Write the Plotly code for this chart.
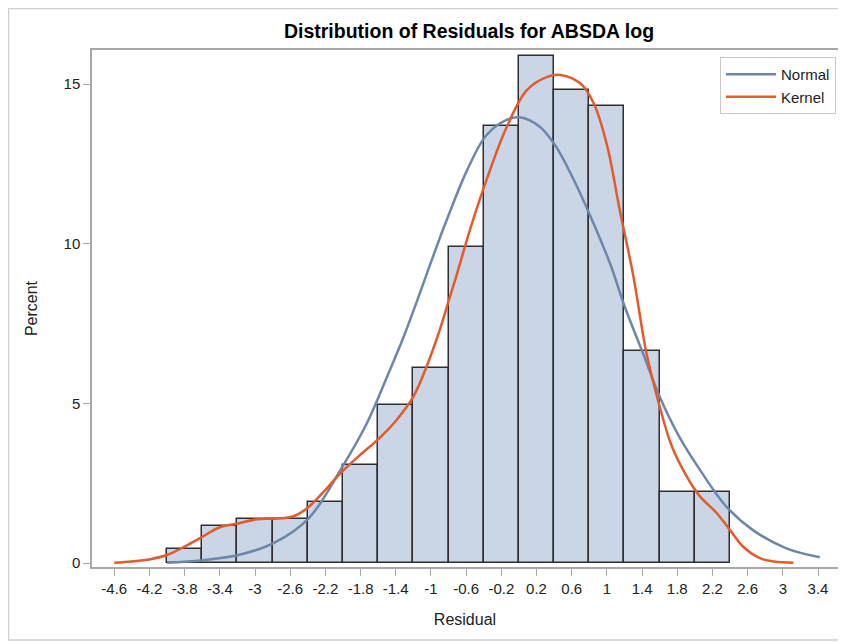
import plotly.graph_objects as go

# Histogram bins (midpoints, width 0.4) and percents
bin_mid = [-3.8, -3.4, -3.0, -2.6, -2.2, -1.8, -1.4, -1.0, -0.6, -0.2,
           0.2, 0.6, 1.0, 1.4, 1.8, 2.2]
bin_pct = [0.44, 1.16, 1.38, 1.38, 1.91, 3.07, 4.95, 6.1, 9.9, 13.69,
           15.88, 14.81, 14.31, 6.64, 2.22, 2.22]

# Normal curve
normal_x = [-4.0, -3.6, -3.19, -2.79, -2.39, -2.03, -1.73, -1.5, -1.31, -1.12,
            -0.97, -0.82, -0.59, -0.37, -0.14, 0.01, 0.24, 0.42, 0.62, 0.81,
            1.04, 1.2, 1.42, 1.6, 1.83, 2.06, 2.36, 2.66, 3.04, 3.42]
normal_y = [0.01, 0.09, 0.25, 0.62, 1.4, 2.91, 4.37, 5.83, 7.09, 8.5,
            9.65, 10.75, 12.3, 13.4, 13.88, 13.96, 13.66, 13.05, 12.02, 10.88,
            9.35, 8.05, 6.5, 5.21, 3.92, 2.91, 1.76, 1.03, 0.46, 0.18]

# Kernel density curve
kernel_x = [-4.6, -4.4, -4.19, -4.0, -3.79, -3.6, -3.4, -3.19, -2.98, -2.79,
            -2.58, -2.41, -2.2, -2.03, -1.8, -1.61, -1.4, -1.2, -1.05, -0.9,
            -0.8, -0.71, -0.55, -0.33, -0.14, 0.09, 0.32, 0.47, 0.7, 0.85,
            1.0, 1.15, 1.3, 1.45, 1.6, 1.74, 1.91, 2.06, 2.25, 2.4,
            2.55, 2.74, 2.9, 3.12]
kernel_y = [0.01, 0.05, 0.12, 0.25, 0.53, 0.82, 1.12, 1.24, 1.37, 1.39,
            1.45, 1.71, 2.29, 2.81, 3.4, 3.85, 4.45, 5.21, 6.15, 7.3,
            8.2, 9.0, 10.5, 12.3, 13.65, 14.81, 15.23, 15.29, 15.02, 14.4,
            13.1, 11.0, 9.0, 6.57, 4.9, 3.64, 2.7, 2.08, 1.56, 1.03,
            0.51, 0.15, 0.05, 0.01]

x_ticks = [-4.6, -4.2, -3.8, -3.4, -3.0, -2.6, -2.2, -1.8, -1.4, -1.0, -0.6,
           -0.2, 0.2, 0.6, 1.0, 1.4, 1.8, 2.2, 2.6, 3.0, 3.4]
x_tick_text = ["-4.6", "-4.2", "-3.8", "-3.4", "-3", "-2.6", "-2.2", "-1.8",
               "-1.4", "-1", "-0.6", "-0.2", "0.2", "0.6", "1", "1.4", "1.8",
               "2.2", "2.6", "3", "3.4"]
y_ticks = [0, 5, 10, 15]

FONT = "Liberation Sans, Arial, sans-serif"

fig = go.Figure()
fig.add_trace(go.Bar(
    x=bin_mid, y=bin_pct, width=0.4,
    marker=dict(color="#CAD5E5", line=dict(color="#2F2F2F", width=1.5)),
    showlegend=False, hoverinfo="skip"))
fig.add_trace(go.Scatter(
    x=normal_x, y=normal_y, mode="lines", name="Normal",
    line=dict(color="#6F86AB", width=2.5, shape="spline", smoothing=1.0)))
fig.add_trace(go.Scatter(
    x=kernel_x, y=kernel_y, mode="lines", name="Kernel",
    line=dict(color="#E45A2A", width=2.5, shape="spline", smoothing=1.0)))

# page has an 8px body margin; figure coords = page coords - 8
W, H = 838, 635
L, R, T, B = 84, 8, 42, 76
pw, ph = W - L - R, H - T - B

fig.update_layout(
    width=W, height=H,
    margin=dict(l=L, r=R, t=T, b=B, autoexpand=False),
    paper_bgcolor="white", plot_bgcolor="white",
    font=dict(family=FONT, size=15, color="#222222"),
    title=dict(text="<b>Distribution of Residuals for ABSDA log</b>",
               x=461 / W, xanchor="center", y=1 - 23 / H, yanchor="middle",
               font=dict(family=FONT, size=19.5, color="#000000")),
    bargap=0,
    showlegend=True,
    legend=dict(x=(828 - L) / pw, xanchor="right", y=(H - B - 49) / ph, yanchor="top",
                bordercolor="#C8C8C8", borderwidth=1, bgcolor="white",
                font=dict(family=FONT, size=15, color="#222222"),
                tracegroupgap=0, itemwidth=50),
    xaxis=dict(range=[-4.853, 3.627], tickvals=x_ticks, ticktext=x_tick_text,
               showgrid=False, zeroline=False, showline=True, linecolor="#A8A8A8",
               linewidth=1.5, mirror=True, ticks="outside", ticklen=7,
               tickcolor="#A8A8A8", tickfont=dict(size=15, color="#222222"),
               automargin=False,
               title=dict(text="Residual", font=dict(size=16, color="#222222"),
                          standoff=18)),
    yaxis=dict(range=[-0.125, 16.07], tickvals=y_ticks,
               showgrid=False, zeroline=False, showline=True, linecolor="#A8A8A8",
               linewidth=1.5, mirror=True, ticks="outside", ticklen=7,
               tickcolor="#A8A8A8", tickfont=dict(size=15, color="#222222"),
               automargin=False,
               title=dict(text="Percent", font=dict(size=16, color="#222222"),
                          standoff=22)),
)

# outer light frame around the whole graph
fig.add_shape(type="rect", xref="paper", yref="paper",
              x0=(0.5 - L) / pw, x1=(835 - L) / pw,
              y0=(H - B - 632) / ph, y1=(H - B - 0.5) / ph,
              line=dict(color="#D0D0D0", width=1.5), fillcolor="rgba(0,0,0,0)",
              layer="below")

fig.write_html("out.html")
